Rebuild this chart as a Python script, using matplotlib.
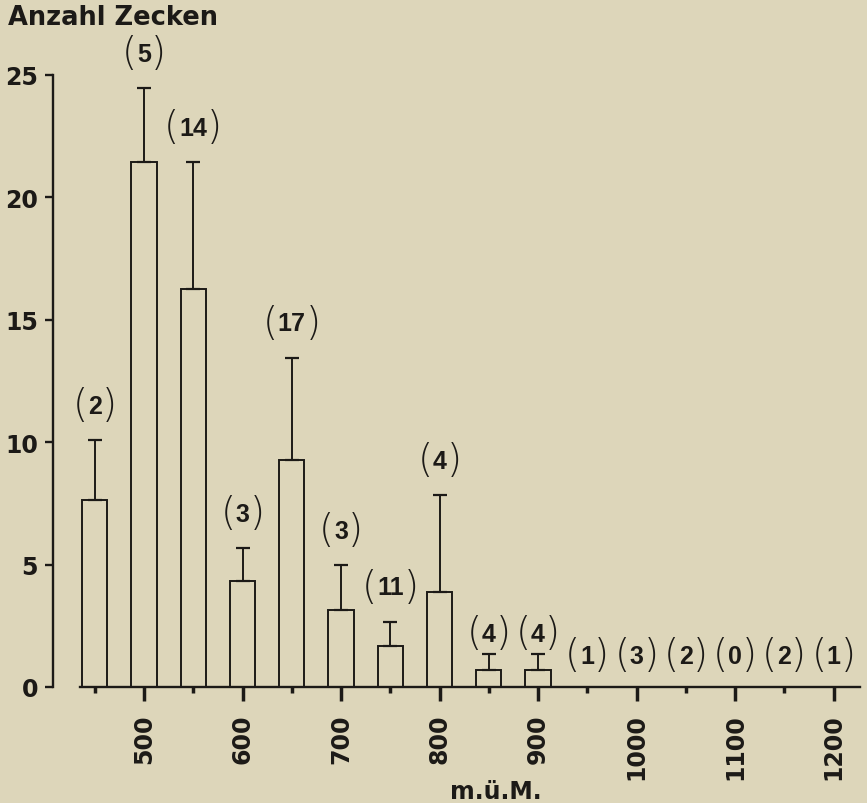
import numpy as np
import matplotlib.pyplot as plt

# altitude classes (m ü. M.) with tick counts: mean and upper error
altitudes = [450, 500, 550, 600, 650, 700, 750, 800, 850, 900]
means = [7.65, 21.43, 16.26, 4.34, 9.28, 3.14, 1.66, 3.86, 0.71, 0.71]
errors = [2.44, 3.02, 5.19, 1.33, 4.17, 1.84, 1.01, 3.98, 0.64, 0.64]
n_samples = [2, 5, 14, 3, 17, 3, 11, 4, 4, 4]

# higher classes without any ticks
empty_altitudes = [950, 1000, 1050, 1100, 1150, 1200]
empty_samples = [1, 3, 2, 0, 2, 1]

bg = "#ddd6ba"
ink = "#1c1a17"
font = "DejaVu Sans"

fig = plt.figure(figsize=(8.67, 8.04), dpi=100, facecolor=bg)
ax = fig.add_axes([0.0525, 0.1443, 0.943, 0.792], facecolor=bg)

ax.bar(altitudes, means, width=25.5, facecolor=bg, edgecolor=ink, linewidth=1.4, zorder=2)
ax.errorbar(altitudes, means, yerr=[np.zeros(len(errors)), errors], fmt="none",
            ecolor=ink, elinewidth=1.4, capsize=5, capthick=1.6, zorder=3)

DIGIT_PT = 18
PAREN_PT = 28


def count_label(x, y, n, dy):
    """Sample size in brackets: bold digits, tall thin parentheses."""
    s = str(n)
    half = 0.556 * DIGIT_PT * len(s) / 2
    common = dict(xy=(x, y), xycoords="data", textcoords="offset points",
                  va="baseline", color=ink, annotation_clip=False)
    ax.annotate(s, xytext=(0, dy - 0.36 * DIGIT_PT), ha="center", fontsize=DIGIT_PT,
                fontweight="bold", family="Liberation Sans", **common)
    yb = dy - 0.315 * PAREN_PT
    ax.annotate("(", xytext=(-half, yb), ha="right", fontsize=PAREN_PT,
                fontweight="light", family=font, **common)
    ax.annotate(")", xytext=(half, yb), ha="left", fontsize=PAREN_PT,
                fontweight="light", family=font, **common)


for x, m, e, n in zip(altitudes, means, errors, n_samples):
    top = m + e
    count_label(x, top, n, 16 if top < 2 else 26)

for x, n in zip(empty_altitudes, empty_samples):
    count_label(x, 0, n, 24)

ax.set_xlim(400, 1230)
ax.set_ylim(0, 26)

for side in ("top", "right"):
    ax.spines[side].set_visible(False)
ax.spines["left"].set_position(("data", 408))
ax.spines["left"].set_bounds(0, 25)
ax.spines["bottom"].set_bounds(435, 1227)
for side in ("left", "bottom"):
    ax.spines[side].set_linewidth(1.7)
    ax.spines[side].set_color(ink)

ax.set_yticks([0, 5, 10, 15, 20, 25])
ax.tick_params(axis="y", direction="out", length=6, width=1.7, color=ink, pad=5,
               labelsize=17, labelcolor=ink)
ax.set_xticks([500, 600, 700, 800, 900, 1000, 1100, 1200])
ax.set_xticks([450, 550, 650, 750, 850, 950, 1050, 1150], minor=True)
ax.tick_params(axis="x", which="major", direction="out", length=10, width=2.5,
               color=ink, pad=9, labelsize=17, labelcolor=ink, labelrotation=90)
ax.tick_params(axis="x", which="minor", direction="out", length=4, width=2.5, color=ink)
for lab in ax.get_xticklabels() + ax.get_yticklabels():
    lab.set_fontweight("bold")
    lab.set_family(font)

fig.text(8 / 867, 1 - 18 / 804, "Anzahl Zecken", fontsize=18.5, fontweight="bold",
         family=font, color=ink, ha="left", va="center")
fig.text(496 / 867, 1 - 792 / 804, "m.ü.M.", fontsize=17, fontweight="bold",
         family=font, color=ink, ha="center", va="center")

fig.savefig("out.png", dpi=100, facecolor=bg)
